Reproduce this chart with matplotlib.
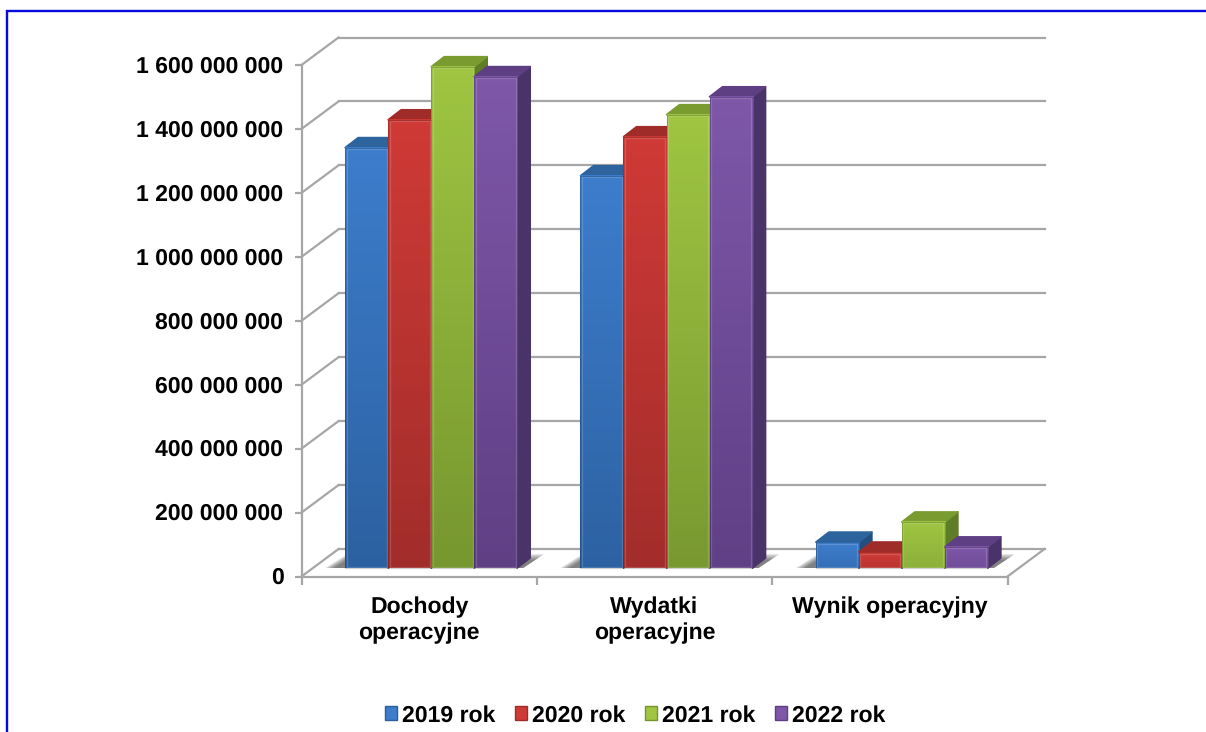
import numpy as np
import matplotlib
matplotlib.use("Agg")
import matplotlib.pyplot as plt
from matplotlib.patches import Polygon, Patch, Rectangle
from matplotlib.transforms import Affine2D

plt.rcParams['font.family'] = ['Liberation Sans', 'DejaVu Sans']
plt.rcParams['text.hinting'] = 'no_hinting'
plt.rcParams['text.hinting_factor'] = 1

categories = ["Dochody\noperacyjne", "Wydatki\noperacyjne", "Wynik operacyjny"]
series_names = ["2019 rok", "2020 rok", "2021 rok", "2022 rok"]
values_2019 = [1315e6, 1227e6, 81e6]
values_2020 = [1402e6, 1349e6, 50e6]
values_2021 = [1568e6, 1418e6, 144e6]
values_2022 = [1537e6, 1474e6, 66e6]
all_values = [values_2019, values_2020, values_2021, values_2022]
y_ticks = [0, 200e6, 400e6, 600e6, 800e6, 1000e6, 1200e6, 1400e6, 1600e6]

face_top = ["#3D7DCC", "#CF3A36", "#9FC542", "#7E57A9"]
face_bot = ["#2A5E9C", "#9E2C2A", "#76962F", "#5F3F84"]
top_col = ["#2D649E", "#A02C2A", "#7A9B30", "#5F3F84"]
side_col = ["#234F80", "#7F2321", "#5F7C26", "#4A3368"]

W, H = 1206, 732
DPI = 100
FS = 16.7
fig = plt.figure(figsize=(W / DPI, H / DPI), dpi=DPI, facecolor="white")

# frame: left and top edges only
fig.add_artist(plt.Line2D([7 / W, 7 / W, 1.0], [0, 1 - 11 / H, 1 - 11 / H],
                          color="#0808E0", lw=1.7, solid_joinstyle="miter"))

X0, X1, Y0, Y1 = 301.5, 1007.5, 576.5, 65
ax = fig.add_axes([X0 / W, 1 - Y0 / H, (X1 - X0) / W, (Y0 - Y1) / H])
ax.set_xlim(0, 3)
ax.set_ylim(0, 1600e6)
ax.patch.set_alpha(0)
for s in ax.spines.values():
    s.set_visible(False)


def shifted(dx, dy):
    """data transform shifted by (dx, dy) pixels, y up"""
    return ax.transData + Affine2D().translate(dx, dy)


GRID = "#A6A6A6"
BACK = (37, 27.5)
BAR_OFF = (12, 8.5)
D = (13, 10)
BW = 43 / 235.33
px_x = 3 / (X1 - X0)
px_y = 1600e6 / (Y0 - Y1)

# walls and floor
for t in y_ticks:
    ax.plot([0, 3], [t, t], color=GRID, lw=1.6, transform=shifted(*BACK), clip_on=False, zorder=1)
    ax.plot([0, BACK[0] * px_x], [t, t + BACK[1] * px_y], color=GRID, lw=1.6, clip_on=False, zorder=1)
ax.plot([3, 3 + BACK[0] * px_x], [0, BACK[1] * px_y], color=GRID, lw=1.6, clip_on=False, zorder=1)
ax.plot([0, 3], [0, 0], color=GRID, lw=1.6, clip_on=False, zorder=1)
ax.plot([0, 0], [0, 1600e6], color=GRID, lw=1.6, clip_on=False, zorder=1)

# ticks
ax.set_xticks([0, 1, 2, 3])
ax.set_xticklabels([])
ax.set_yticks(y_ticks)
ax.set_yticklabels([f"{int(v):,}".replace(",", " ") for v in y_ticks],
                   fontsize=FS, fontweight="bold", color="black")
ax.tick_params(axis="y", length=5, width=1.6, color=GRID, pad=8)
ax.tick_params(axis="x", length=6, width=1.6, color=GRID)
for lbl in ax.get_yticklabels():
    lbl.set_transform(lbl.get_transform() + Affine2D().translate(0, 0.7))
for i, c in enumerate(categories):
    ax.annotate(c, (i + 0.5, 0), xytext=(0, -20), textcoords="offset pixels",
                ha="center", va="top", fontsize=FS, fontweight="bold",
                linespacing=1.27, annotation_clip=False)

grad = np.linspace(0, 1, 64)[:, None]

for c in range(3):
    x_left = c + 0.5 - 2 * BW
    tr = shifted(*BAR_OFF)
    sx0, sx1 = x_left, x_left + 4 * BW
    # soft floor shadow: stacked layers shrink toward the bars
    for k in range(7):
        ax.add_patch(Polygon([(sx0 - (20 - k * 1.5) * px_x, 0), (sx1 + 6 * px_x, 0),
                              (sx1 + (27 - k * 1.5) * px_x, (14 - k) * px_y),
                              (sx0 + 2 * px_x, (14 - k) * px_y)],
                             closed=True, fc="#303030", ec="none", alpha=0.12,
                             transform=tr, zorder=2, clip_on=False))
    for s, vals in enumerate(all_values):
        v = vals[c]
        x = x_left + s * BW
        dxd, dyd = D[0] * px_x, D[1] * px_y
        z = 3 + s * 0.1
        ax.add_patch(Polygon([(x + BW, 0), (x + BW + dxd, dyd), (x + BW + dxd, v + dyd), (x + BW, v)],
                             fc=side_col[s], ec=side_col[s], lw=1.2, joinstyle="round",
                             transform=tr, zorder=z, clip_on=False))
        ax.add_patch(Polygon([(x, v), (x + dxd, v + dyd), (x + BW + dxd, v + dyd), (x + BW, v)],
                             fc=top_col[s], ec=top_col[s], lw=1.2, joinstyle="round",
                             transform=tr, zorder=z, clip_on=False))
        top = np.array(matplotlib.colors.to_rgb(face_top[s]))
        bot = np.array(matplotlib.colors.to_rgb(face_bot[s]))
        # short bars start from a lighter bottom than tall ones
        frac = v / 1600e6
        bottom = bot + (top - bot) * (1 - frac) * 0.6
        img = (bottom + (top - bottom) * grad)[:, None, :].reshape(64, 1, 3)
        ax.imshow(img, origin="lower", aspect="auto", extent=(x, x + BW, 0, v),
                  transform=tr, zorder=z + 0.01, clip_on=False)
        ax.add_patch(Rectangle((x, 0), BW, v, fc="none", ec=(0, 0, 0, 0.18), lw=0.8,
                               transform=tr, zorder=z + 0.03, clip_on=False))
        ax.add_patch(Rectangle((x + 1.5 * px_x, 1.5 * px_y), BW - 3 * px_x, v - 3 * px_y,
                               fc="none", ec=(1, 1, 1, 0.16), lw=0.9,
                               transform=tr, zorder=z + 0.02, clip_on=False))
ax.set_xlim(0, 3)
ax.set_ylim(0, 1600e6)

handles = [Patch(fc=face_top[i], ec=face_bot[i], lw=1, label=series_names[i]) for i in range(4)]
fig.legend(handles=handles, loc="center", bbox_to_anchor=(635 / W, 1 - 715.5 / H), ncol=4,
           frameon=False, prop={"size": FS, "weight": "bold"}, handlelength=0.52, handleheight=0.52,
           handletextpad=0.2, columnspacing=0.86, borderpad=0)

fig.savefig("out.png", dpi=DPI, facecolor="white")
